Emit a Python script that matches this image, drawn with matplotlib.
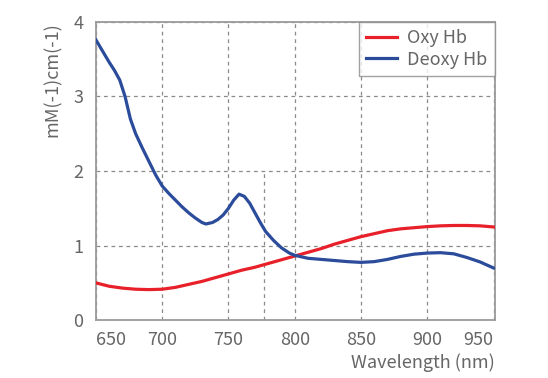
import numpy as np
import matplotlib
matplotlib.use("Agg")
from matplotlib import pyplot as plt

plt.rcParams['font.family'] = ['Noto Sans CJK JP', 'DejaVu Sans']

###################################################################################################
# Data
###################################################################################################
deoxyWl = [650, 655, 660, 664, 668, 672, 676, 680, 685, 690, 695, 700, 705, 710, 715, 720, 725, 730,
           733, 738, 742, 746, 750, 754, 758, 762, 766, 770, 774, 778, 784, 790, 796, 800, 810, 820,
           830, 840, 850, 860, 870, 880, 890, 900, 910, 920, 930, 940, 950]
deoxyVal = [3.76, 3.61, 3.46, 3.35, 3.22, 3.00, 2.70, 2.50, 2.31, 2.13, 1.95, 1.80, 1.70, 1.61, 1.52,
            1.44, 1.37, 1.31, 1.29, 1.31, 1.35, 1.41, 1.50, 1.61, 1.69, 1.66, 1.57, 1.44, 1.31, 1.19,
            1.07, 0.97, 0.90, 0.87, 0.83, 0.815, 0.80, 0.785, 0.775, 0.785, 0.815, 0.855, 0.885,
            0.90, 0.905, 0.89, 0.84, 0.78, 0.70]

oxyWl = [650, 660, 670, 680, 690, 700, 710, 720, 730, 740, 750, 760, 770, 780, 790, 800, 810, 820,
         830, 840, 850, 860, 870, 880, 890, 900, 910, 920, 930, 940, 950]
oxyVal = [0.50, 0.455, 0.43, 0.415, 0.41, 0.415, 0.44, 0.48, 0.52, 0.57, 0.62, 0.67, 0.71, 0.76,
          0.81, 0.86, 0.91, 0.96, 1.02, 1.07, 1.12, 1.16, 1.20, 1.225, 1.24, 1.255, 1.265, 1.27,
          1.27, 1.265, 1.25]

xTicks = [650, 700, 750, 800, 850, 900, 950]
yTicks = [0, 1, 2, 3, 4]
extraGridWl = 777   # short extra vertical grid line
extraGridTop = 2

###################################################################################################
# Plot
###################################################################################################
TXT = '#666666'
GRID = '#8a8a8a'

fig = plt.figure(figsize=(5.48, 3.78), dpi=100)
ax = fig.add_axes([0.175, 0.153, 0.728, 0.789])

ax.plot(oxyWl, oxyVal, color='#e8202a', lw=2.3, label='Oxy Hb', zorder=3)
ax.plot(deoxyWl, deoxyVal, color='#2b4b9b', lw=2.3, label='Deoxy Hb', zorder=3)

ax.set_xlim(650, 951)
ax.set_ylim(0, 4)
ax.set_xticks(xTicks)
ax.set_yticks(yTicks)
ax.grid(True, color=GRID, lw=0.9, ls=(0, (3, 3)))
ax.vlines(extraGridWl, 0, extraGridTop, color=GRID, lw=0.9, ls=(0, (3, 3)))

for s in ax.spines.values():
    s.set_color('#9a9a9a')
    s.set_linewidth(1.3)

ax.tick_params(length=0, labelsize=13, labelcolor=TXT, pad=8)
ax.tick_params(axis='y', pad=9)
xl = ax.get_xticklabels()
xl[0].set_ha('left')
xl[-1].set_ha('right')

ax.set_xlabel('Wavelength (nm)', loc='right', fontsize=13, color=TXT, labelpad=3)
ax.set_ylabel('mM(-1)cm(-1)', loc='top', fontsize=13, color=TXT, labelpad=8)

leg = ax.legend(loc='upper right', fontsize=13, frameon=True, fancybox=False,
                borderaxespad=0, handlelength=1.7, handletextpad=0.6,
                borderpad=0.4, labelspacing=0.2, labelcolor=TXT)
leg.get_frame().set_edgecolor('#8a8a8a')
leg.get_frame().set_linewidth(1.0)

fig.savefig('out.png', dpi=100)
